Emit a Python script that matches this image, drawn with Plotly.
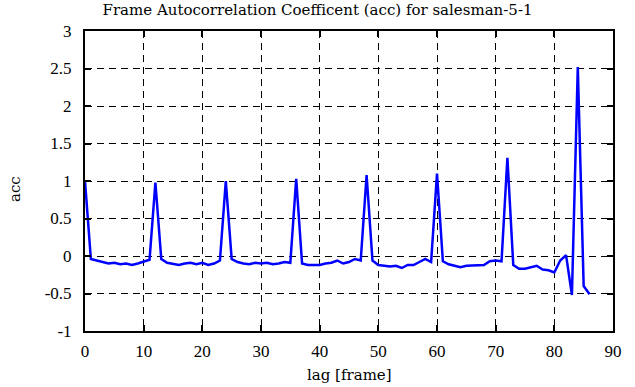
import plotly.graph_objects as go

lags = list(range(0, 87))
acc = [
    1.00, -0.04, -0.06, -0.08, -0.10, -0.09, -0.11, -0.10, -0.12, -0.10,
    -0.07, -0.05, 0.98, -0.04, -0.09, -0.10, -0.12, -0.10, -0.09, -0.11,
    -0.09, -0.12, -0.10, -0.06, 1.00, -0.04, -0.08, -0.10, -0.11, -0.09,
    -0.10, -0.09, -0.11, -0.10, -0.08, -0.09, 1.03, -0.10, -0.12, -0.12,
    -0.12, -0.10, -0.09, -0.06, -0.10, -0.08, -0.04, -0.06, 1.08, -0.06,
    -0.12, -0.13, -0.14, -0.13, -0.16, -0.12, -0.12, -0.08, -0.04, -0.08,
    1.10, -0.07, -0.11, -0.13, -0.15, -0.13, -0.13, -0.12, -0.12, -0.07,
    -0.06, -0.07, 1.31, -0.12, -0.17, -0.17, -0.15, -0.13, -0.18, -0.19,
    -0.22, -0.06, 0.01, -0.52, 2.52, -0.40, -0.51,
]

x_ticks = [0, 10, 20, 30, 40, 50, 60, 70, 80, 90]
x_labels = ["0", "10", "20", "30", "40", "50", "60", "70", "80", "90"]
y_ticks = [-1, -0.5, 0, 0.5, 1, 1.5, 2, 2.5, 3]
y_labels = ["-1", "-0.5", "0", "0.5", "1", "1.5", "2", "2.5", "3"]

tick_font = dict(family="Liberation Serif, Times New Roman, serif", size=17, color="black")
title_font = dict(family="DejaVu Serif, serif", size=15, color="black")

fig = go.Figure(go.Scatter(
    x=lags, y=acc, mode="lines",
    line=dict(color="#0000ff", width=2.5),
))

axis_common = dict(
    showline=True, linecolor="black", linewidth=2, mirror="ticks",
    ticks="inside", ticklen=6, tickwidth=1.5, tickcolor="black",
    showgrid=True, gridcolor="black", gridwidth=1, griddash="7px,5px",
    zeroline=False, tickfont=tick_font,
)

fig.update_layout(
    width=635, height=387,
    margin=dict(l=85, r=22, t=31, b=56, autoexpand=False),
    paper_bgcolor="white", plot_bgcolor="white",
    showlegend=False,
    title=dict(text="Frame Autocorrelation Coefficent (acc) for salesman-5-1",
               x=0.5, xanchor="center", y=0.974, yanchor="middle",
               font=title_font),
    xaxis=dict(range=[0, 90], tickvals=x_ticks, ticktext=x_labels,
               ticklabelstandoff=4, **axis_common),
    yaxis=dict(range=[-1, 3], tickvals=y_ticks, ticktext=y_labels,
               ticklabelstandoff=8, **axis_common),
    annotations=[
        dict(text="lag [frame]", xref="paper", yref="paper", x=0.5, y=0,
             xanchor="center", yanchor="middle", yshift=-44,
             showarrow=False, font=title_font),
        dict(text="acc", xref="paper", yref="paper", x=0, y=0.5,
             xanchor="center", yanchor="middle", xshift=-70, yshift=-8,
             textangle=-90, showarrow=False, font=title_font),
    ],
)

fig.write_html("out.html",
               config={"displayModeBar": False},
               post_script="document.body.style.margin='0';document.body.style.padding='0';")
